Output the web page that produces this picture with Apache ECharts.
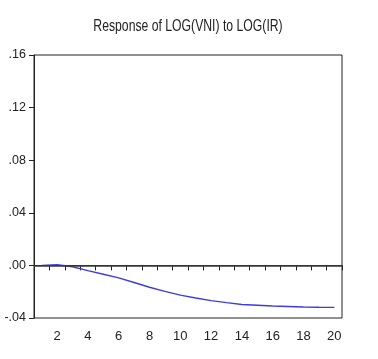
<!DOCTYPE html>
<html><head><meta charset="utf-8">
<script src="https://cdn.jsdelivr.net/npm/echarts@6/dist/echarts.min.js"></script>
<style>html,body{margin:0;padding:0;background:#fff}#c{width:378px;height:359px}</style>
</head><body><div id="c"></div>
<script>
var periods = ['1','2','3','4','5','6','7','8','9','10','11','12','13','14','15','16','17','18','19','20'];
var response = [0.0000, 0.0005, -0.0010, -0.0040, -0.0067, -0.0095, -0.0130, -0.0166, -0.0198, -0.0226, -0.0248, -0.0268, -0.0283, -0.0297, -0.0303, -0.0309, -0.0312, -0.0316, -0.0318, -0.0319];
var yTicks = [-0.04, 0.16, 0.04];
var titleText = 'Response of LOG(VNI) to LOG(IR)';
var fontFam = "'Liberation Sans',Arial,sans-serif";
var chart = echarts.init(document.getElementById('c'));
chart.setOption({
  animation: false,
  graphic: [{
    type: 'text', x: 188, y: 26, scaleX: 0.74,
    style: {text: titleText, fontFamily: fontFam, fontSize: 16.5, fill: '#222', align: 'center', verticalAlign: 'middle'}
  }],
  grid: {left: 34, right: 36, top: 55, bottom: 41, show: true, borderColor: '#222', borderWidth: 1},
  xAxis: {
    type: 'category', data: periods, boundaryGap: true,
    axisLine: {lineStyle: {color: '#222'}},
    axisTick: {show: true, interval: 0, length: 5, lineStyle: {color: '#222'}},
    axisLabel: {interval: function (i) { return i % 2 === 1; }, color: '#222', fontFamily: fontFam, fontSize: 13, margin: 12},
    splitLine: {show: false}
  },
  yAxis: {
    type: 'value', min: yTicks[0], max: yTicks[1], interval: yTicks[2],
    axisLine: {show: true, lineStyle: {color: '#222'}},
    axisTick: {show: true, length: 5, lineStyle: {color: '#222'}},
    axisLabel: {color: '#222', fontFamily: fontFam, fontSize: 12.5, margin: 8,
      formatter: function (v) { return v.toFixed(2).replace('0.', '.'); }},
    splitLine: {show: false}
  },
  series: [{
    type: 'line', data: response, symbol: 'none', smooth: false,
    lineStyle: {color: '#3c3ce0', width: 1.4},
    markLine: {silent: true, symbol: 'none', label: {show: false},
      lineStyle: {color: '#3a3a3a', type: 'solid', width: 1.6},
      data: [{yAxis: 0}]}
  }]
});
</script></body></html>
